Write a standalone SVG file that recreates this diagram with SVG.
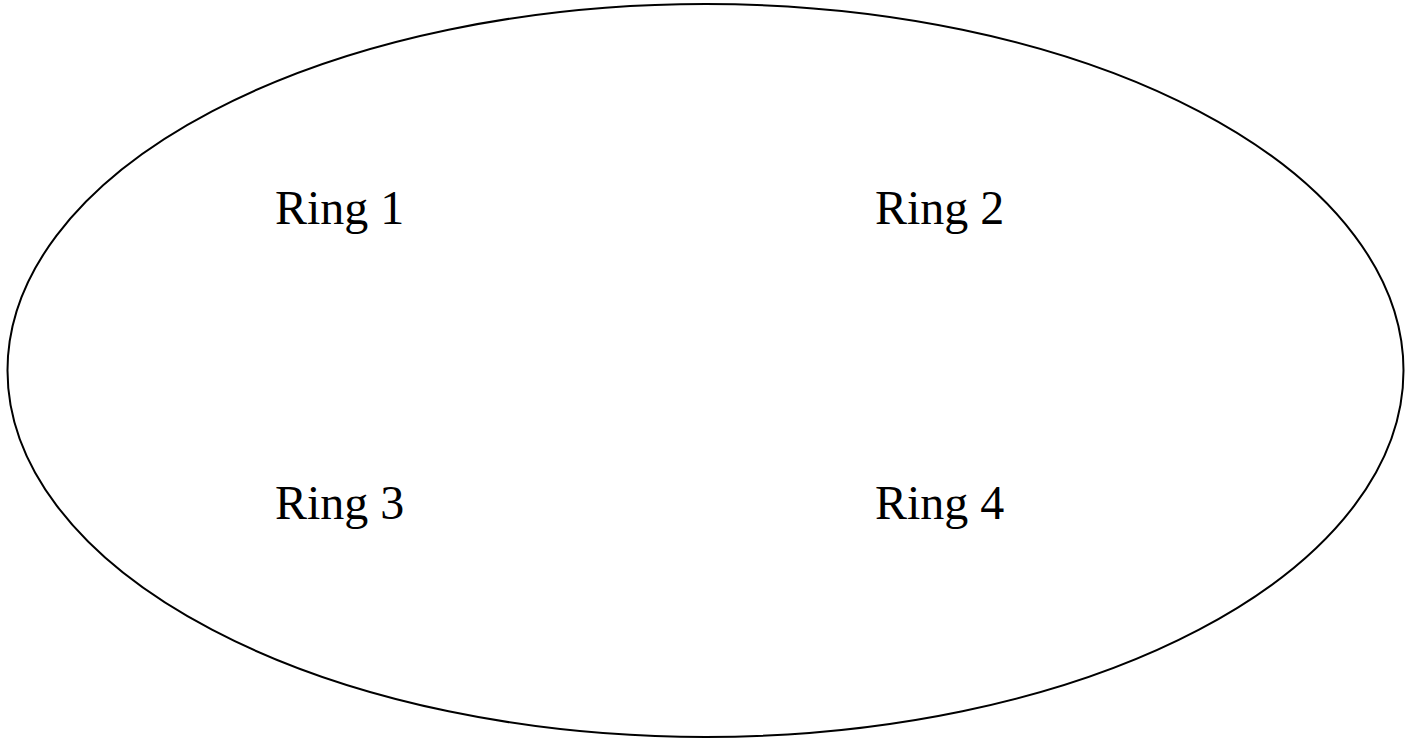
<svg xmlns="http://www.w3.org/2000/svg" width="1418" height="741" viewBox="0 0 1418 741">
<style>
.lbl{font-family:"Liberation Serif","Times New Roman",serif;font-size:48px;fill:#000}
</style>
<rect width="1418" height="741" fill="#fff"/>
<g id="ring-group">
<ellipse cx="705.5" cy="370.5" rx="698" ry="366.5" fill="none" stroke="#000" stroke-width="2"/>
</g>
<g id="ring1"><text class="lbl" x="275" y="224">Ring 1</text></g>
<g id="ring2"><text class="lbl" x="875" y="224">Ring 2</text></g>
<g id="ring3"><text class="lbl" x="275" y="519">Ring 3</text></g>
<g id="ring4"><text class="lbl" x="875" y="519">Ring 4</text></g>
<g id="connectors"></g>
</svg>
